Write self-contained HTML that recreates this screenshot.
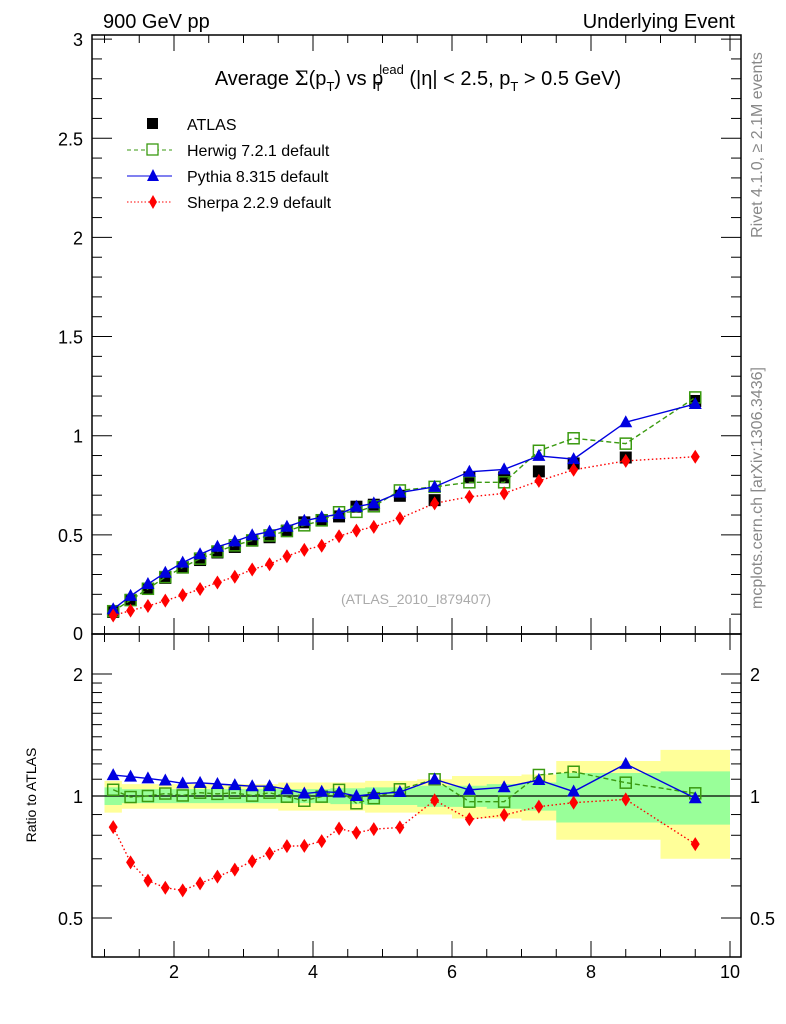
<!DOCTYPE html>
<html><head><meta charset="utf-8">
<style>
html,body{margin:0;padding:0;background:#fff;}
svg{display:block;font-family:"Liberation Sans",sans-serif;}
</style></head>
<body>
<svg id="chart" width="786" height="1024" viewBox="0 0 786 1024" xmlns="http://www.w3.org/2000/svg">
<text x="103" y="28" font-size="20">900 GeV pp</text>
<text x="735" y="28" font-size="20" text-anchor="end">Underlying Event</text>
<text x="418" y="85" font-size="20" text-anchor="middle">Average <tspan font-family="DejaVu Serif, serif">Σ</tspan>(p<tspan font-size="13" dy="6">T</tspan><tspan dy="-6">) vs p</tspan><tspan font-size="13" dx="-9" dy="6">T</tspan><tspan font-size="13" dx="-3" dy="-17">lead</tspan><tspan dy="11"> (|η| &lt; 2.5, p</tspan><tspan font-size="13" dy="6">T</tspan><tspan dy="-6"> &gt; 0.5 GeV)</tspan></text>
<text transform="translate(762,145) rotate(-90)" font-size="16" fill="#888" text-anchor="middle">Rivet 4.1.0, ≥ 2.1M events</text>
<text transform="translate(762,488) rotate(-90)" font-size="16" fill="#888" text-anchor="middle">mcplots.cern.ch [arXiv:1306.3436]</text>
<text x="416" y="604" font-size="14" fill="#aaa" text-anchor="middle">(ATLAS_2010_I879407)</text>
<text transform="translate(36,795) rotate(-90)" font-size="14" text-anchor="middle">Ratio to ATLAS</text>
<g id="legend">
<g><rect x="147" y="118" width="11" height="11" fill="#000"/><text x="187" y="130" font-size="16">ATLAS</text></g>
<g><line x1="127" y1="150" x2="172" y2="150" stroke="#3a9a10" stroke-dasharray="4,3"/><rect x="147" y="144" width="11" height="11" fill="#fff" stroke="#3a9a10" stroke-width="1.3"/><text x="187" y="156" font-size="16">Herwig 7.2.1 default</text></g>
<g><line x1="127" y1="176" x2="172" y2="176" stroke="#0000e0"/><polygon points="153,169 159,181 147,181" fill="#0000e0"/><text x="187" y="182" font-size="16">Pythia 8.315 default</text></g>
<g><line x1="127" y1="202" x2="172" y2="202" stroke="#f00" stroke-dasharray="1.5,2"/><polygon points="153,195 157,202 153,209 149,202" fill="#f00"/><text x="187" y="208" font-size="16">Sherpa 2.2.9 default</text></g>
</g>
</svg>
<script>
const binEdges=[1,1.25,1.5,1.75,2,2.25,2.5,2.75,3,3.25,3.5,3.75,4,4.25,4.5,4.75,5,5.5,6,6.5,7,7.5,8,9,10];
const atlas=[0.111,0.172,0.228,0.283,0.335,0.373,0.411,0.439,0.471,0.488,0.521,0.563,0.575,0.593,0.642,0.652,0.697,0.675,0.79,0.79,0.82,0.86,0.89,1.175];
const herwig=[0.115,0.171,0.228,0.287,0.336,0.380,0.416,0.447,0.472,0.497,0.519,0.548,0.573,0.614,0.616,0.644,0.724,0.742,0.765,0.765,0.924,0.987,0.960,1.193];
const pythia=[0.125,0.192,0.252,0.309,0.360,0.402,0.440,0.467,0.498,0.516,0.541,0.571,0.589,0.605,0.642,0.659,0.713,0.742,0.818,0.830,0.898,0.882,1.068,1.160];
const sherpa=[0.093,0.118,0.141,0.168,0.196,0.227,0.260,0.289,0.325,0.352,0.392,0.424,0.445,0.493,0.521,0.540,0.583,0.659,0.692,0.709,0.772,0.828,0.873,0.894];
const bandOuter=[0.09,0.07,0.07,0.07,0.07,0.07,0.07,0.07,0.07,0.07,0.08,0.08,0.08,0.08,0.08,0.09,0.09,0.10,0.12,0.12,0.13,0.22,0.22,0.30];
const bandInner=[0.05,0.04,0.04,0.04,0.04,0.04,0.04,0.04,0.04,0.04,0.04,0.04,0.04,0.045,0.045,0.05,0.05,0.06,0.06,0.07,0.08,0.14,0.14,0.15];
const xTicks=[2,4,6,8,10];
const yTicks=[0,0.5,1,1.5,2,2.5,3];
const rTicks=[0.5,1,2];

const NS='http://www.w3.org/2000/svg';
const svg=document.getElementById('chart');
const L=92,R=741,T=35,MB=634,RB=957;
const X=v=>35+(v)*69.5;
const Y=v=>634-v*198.3;
const RY=r=>796-Math.log2(r)*122;
function mk(tag,attrs,parent){const e=document.createElementNS(NS,tag);for(const k in attrs)e.setAttribute(k,attrs[k]);(parent||svg).appendChild(e);return e;}
const centers=binEdges.slice(0,-1).map((e,i)=>(e+binEdges[i+1])/2);

const bandG=mk('g',{});


[[bandOuter,'#ffff99'],[bandInner,'#99ff99']].forEach(([arr,col])=>{
  let d='';
  centers.forEach((c,i)=>{const x0=X(binEdges[i]),x1=X(binEdges[i+1]);const y0=RY(1+arr[i]),y1=RY(1-arr[i]);
    d+=`M${x0},${y0}H${x1}V${y1}H${x0}Z`;});
  const p=mk('path',{d:d,fill:col},bandG);
  
  
});
const one=mk('line',{x1:L,x2:R,y1:RY(1),y2:RY(1),stroke:'#000','stroke-width':1.2});



const f1=mk('rect',{x:L,y:T,width:R-L,height:MB-T,fill:'none',stroke:'#000','stroke-width':1.5});


const f2=mk('rect',{x:L,y:MB,width:R-L,height:RB-MB,fill:'none',stroke:'#000','stroke-width':1.5});



const tg=mk('g',{stroke:'#000','stroke-width':1});


for(let v=1;v<=10.001;v+=0.5){const x=X(v);if(x<L||x>R)continue;const maj=Math.abs(v-Math.round(v/2)*2)<1e-6;const len=maj?16:8;
  [[T,T+len],[MB,MB-len],[MB,MB+len],[RB,RB-len]].forEach(([a,b])=>mk('line',{x1:x,x2:x,y1:a,y2:b},tg));}
for(let i=0;i<=30;i++){const v=i/10,y=Y(v);const maj=i%5===0;const len=maj?20:10;
  mk('line',{x1:L,x2:L+len,y1:y,y2:y},tg);mk('line',{x1:R,x2:R-len,y1:y,y2:y},tg);}
[0.4,0.5,0.6,0.7,0.8,0.9,1,1.1,1.2,1.3,1.4,1.5,1.6,1.7,1.8,1.9,2,2.5].forEach(v=>{const y=RY(v);if(y<MB+1||y>RB-1)return;const maj=(v===0.5||v===1||v===2);const len=maj?20:10;
  mk('line',{x1:L,x2:L+len,y1:y,y2:y},tg);mk('line',{x1:R,x2:R-len,y1:y,y2:y},tg);});

xTicks.forEach(v=>{const t=mk('text',{x:X(v),y:978,'font-size':18,'text-anchor':'middle'});t.textContent=v;
  
  });
yTicks.forEach(v=>{const t=mk('text',{x:83,y:Math.min(Y(v)+7,640),'font-size':18,'text-anchor':'end'});t.textContent=v;
  
  });
rTicks.forEach(v=>{[[83,'end'],[750,'start']].forEach(([x,a])=>{const t=mk('text',{x:x,y:RY(v)+7,'font-size':18,'text-anchor':a});t.textContent=v;
  
  });});

function marker(type,x,y,col,g){
  if(type==='sq')return mk('rect',{x:x-6,y:y-6,width:12,height:12,fill:'#000'},g);
  if(type==='osq')return mk('rect',{x:x-5.5,y:y-5.5,width:11,height:11,fill:'none',stroke:col,'stroke-width':1.5},g);
  if(type==='tri')return mk('polygon',{points:`${x},${y-7} ${x+6.5},${y+5} ${x-6.5},${y+5}`,fill:col},g);
  return mk('polygon',{points:`${x},${y-7} ${x+4.5},${y} ${x},${y+7} ${x-4.5},${y}`,fill:col},g);
}
const series=[
  {name:'atlas',vals:atlas,col:'#000',type:'sq',dash:null},
  {name:'herwig',vals:herwig,col:'#3a9a10',type:'osq',dash:'5,3'},
  {name:'pythia',vals:pythia,col:'#0000e0',type:'tri',dash:''},
  {name:'sherpa',vals:sherpa,col:'#f00',type:'dia',dash:'1.5,2.5'}
];
series.forEach(s=>{
  ['main','ratio'].forEach(panel=>{
    if(panel==='ratio'&&s.name==='atlas')return;
    const g=mk('g',{});
    
    
    const pts=centers.map((c,i)=>[X(c),panel==='main'?Y(s.vals[i]):RY(s.vals[i]/atlas[i])]);
    if(s.dash!==null){const pl=mk('polyline',{points:pts.map(p=>p.join(',')).join(' '),fill:'none',stroke:s.col,'stroke-width':1.4},g);
      if(s.dash)pl.setAttribute('stroke-dasharray',s.dash);
      
      }
    pts.forEach(p=>{const m=marker(s.type,p[0],p[1],s.col,g);
      
      });
  });
});
</script>
</body></html>
